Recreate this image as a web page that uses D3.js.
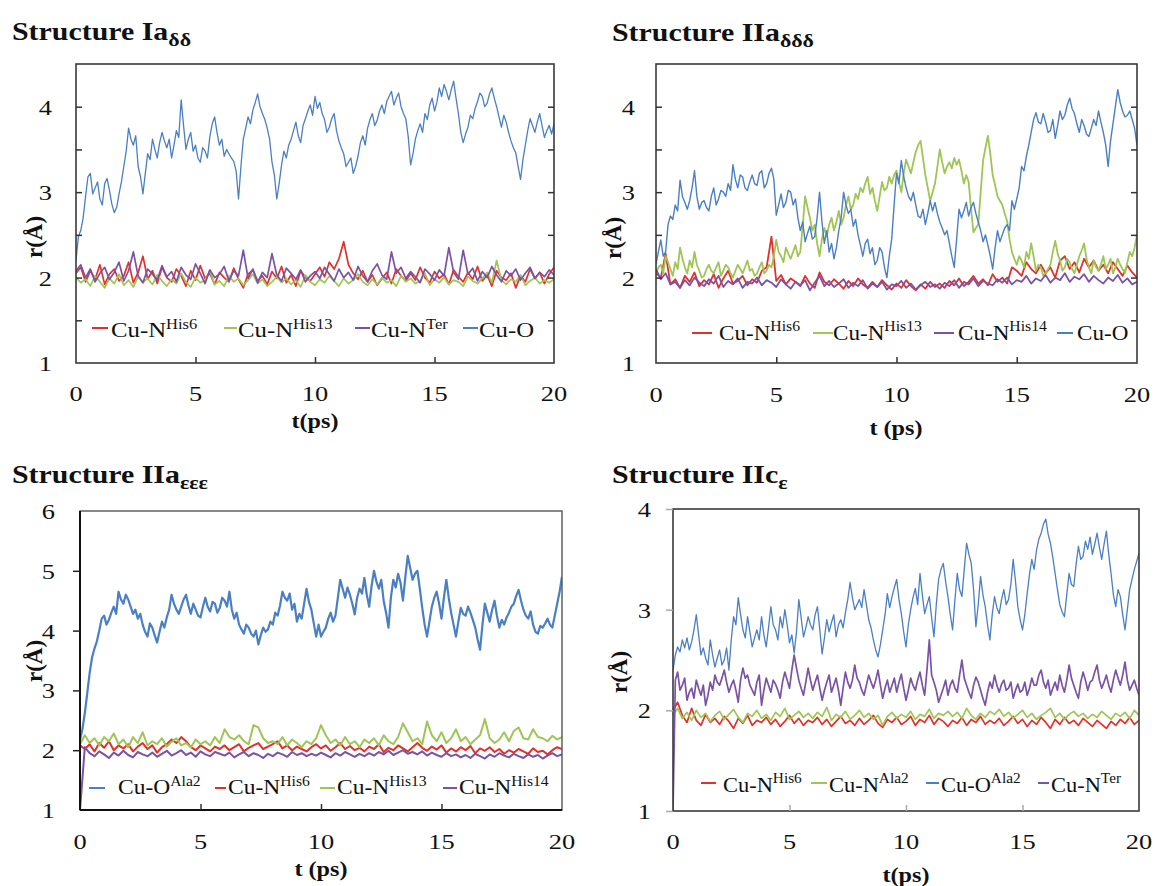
<!DOCTYPE html>
<html><head><meta charset="utf-8">
<script src="https://cdn.jsdelivr.net/npm/d3@7"></script>
<style>body{margin:0;background:#fff}svg{display:block}text{font-family:"Liberation Serif","Times New Roman",Times,serif}</style>
</head><body><svg id="c" width="1155" height="886"></svg>
<script>
// every series spans t = 0 … 20 ps at an even step
const tMax = 20;
const xTicks = [0, 5, 10, 15, 20];

// ---------- Structure Ia(δδ) ----------
const ia_CuN_His6 = [2.05,2.12,1.95,2.08,1.98,2.15,1.92,2.04,2.10,1.96,
 2.02,2.18,1.94,2.06,2.25,1.98,2.08,1.93,2.12,2.00,
 1.95,2.10,2.02,1.90,2.08,1.97,2.14,1.99,2.05,1.92,
 2.06,2.00,1.95,2.11,1.98,1.88,2.04,2.09,1.96,2.02,
 1.92,2.07,1.99,2.13,1.94,2.03,1.90,2.08,2.00,1.96,
 2.04,2.12,2.01,2.18,2.10,2.22,2.42,2.15,2.05,1.98,
 2.08,1.95,2.03,1.91,1.99,2.06,1.93,2.10,2.02,1.96,
 2.05,1.97,2.12,2.00,1.94,2.07,1.99,2.04,1.92,2.09,
 2.01,1.95,2.06,1.98,2.13,1.96,2.03,1.90,2.08,2.00,
 1.97,2.05,1.88,2.02,1.95,2.10,1.99,2.06,1.93,2.04,2.12];
const ia_CuN_His13 = [2.00,1.94,1.98,1.90,2.02,1.95,1.88,1.99,1.93,2.04,
 1.91,1.97,1.89,2.01,1.94,1.99,1.92,2.03,1.96,1.90,
 1.98,1.93,2.05,1.95,1.89,2.00,1.94,1.97,2.08,1.92,
 1.96,1.90,2.02,1.95,1.99,1.91,1.97,2.04,1.93,1.98,
 1.90,1.95,2.01,1.94,1.99,1.92,1.97,1.89,2.03,1.95,
 1.91,1.98,1.94,2.02,1.96,1.90,1.99,1.93,1.97,2.04,
 1.95,1.91,1.98,1.92,2.00,1.94,1.97,1.90,2.02,1.95,
 1.99,1.93,1.96,2.05,1.91,1.98,1.94,2.00,1.92,1.97,
 1.95,1.90,2.01,1.96,1.93,1.99,2.06,1.94,2.20,1.97,
 1.92,1.98,1.95,2.03,1.91,1.96,2.00,1.93,1.97,1.94,1.98];
const ia_CuN_Ter = [2.08,2.15,2.00,2.10,1.95,2.05,2.12,1.98,2.06,2.18,
 1.96,2.08,2.30,2.02,1.94,2.10,2.04,1.97,2.14,2.01,
 2.07,1.95,2.12,2.03,1.98,2.16,2.05,1.93,2.09,2.00,
 2.04,2.13,1.96,2.08,2.02,2.32,1.99,2.10,1.94,2.06,
 2.00,2.28,2.03,1.96,2.11,2.05,1.98,2.09,1.95,2.02,
 2.07,1.99,2.12,2.04,1.96,2.10,2.00,2.06,1.97,2.13,
 2.02,1.95,2.08,2.16,2.03,1.98,2.30,2.05,2.12,1.99,
 2.07,2.01,1.94,2.10,2.04,1.97,2.09,2.02,2.35,2.06,
 1.98,2.32,2.04,2.11,1.96,2.07,2.00,2.13,2.03,1.95,
 2.08,2.02,2.10,1.97,2.05,2.12,1.99,2.06,2.01,2.09,2.03];
const ia_CuO = [2.20,2.48,2.55,2.70,2.95,3.18,3.22,2.98,3.05,3.12,2.92,2.85,3.10,3.16,3.02,2.86,2.76,2.82,2.98,3.12,
 3.30,3.48,3.75,3.62,3.55,3.66,3.30,3.18,2.98,3.22,3.45,3.38,3.62,3.50,3.40,3.58,3.70,3.60,3.52,3.62,
 3.40,3.55,3.72,3.64,4.08,3.78,3.50,3.62,3.70,3.48,3.55,3.40,3.35,3.52,3.48,3.40,3.65,3.80,3.88,3.70,
 3.55,3.62,3.42,3.50,3.45,3.40,3.36,3.25,2.92,3.30,3.62,3.75,3.88,3.80,3.96,4.05,4.15,4.00,3.92,3.85,
 3.75,3.62,3.35,3.20,2.92,3.10,3.32,3.48,3.40,3.55,3.62,3.72,3.82,3.66,3.58,3.78,3.86,3.95,4.02,3.90,
 4.12,3.98,4.05,3.92,3.85,3.70,3.76,3.86,3.92,3.72,3.60,3.52,3.45,3.30,3.35,3.40,3.22,3.30,3.42,3.58,
 3.66,3.55,3.75,3.85,3.92,3.78,3.84,3.95,4.02,3.92,4.06,4.12,4.18,4.02,4.10,4.16,4.00,3.92,3.86,3.65,
 3.32,3.45,3.62,3.72,3.80,3.70,3.92,3.85,4.02,4.10,3.95,4.05,4.22,4.12,4.26,4.18,4.08,4.20,4.30,4.10,
 3.92,3.70,3.58,3.68,3.76,3.90,3.86,3.98,4.06,4.16,4.12,4.00,4.04,4.15,4.22,4.10,4.00,3.88,3.76,3.90,
 3.82,3.70,3.60,3.52,3.46,3.30,3.15,3.38,3.55,3.72,3.86,3.78,3.70,3.82,3.92,3.78,3.64,3.72,3.78,3.68,3.80];

// ---------- Structure IIa(δδδ) ----------
const iia_d_CuN_His6 = [2.05,2.00,2.28,1.92,1.98,1.88,2.02,1.95,2.06,1.90,
 1.97,1.92,2.04,1.88,1.99,2.08,1.93,1.96,2.02,1.91,
 1.98,1.94,2.08,2.12,2.48,1.96,2.03,1.92,1.99,1.95,
 1.90,2.02,1.93,1.88,2.06,1.95,1.91,1.98,1.93,1.87,
 1.96,1.90,1.99,1.92,1.88,1.95,1.89,1.97,1.91,1.86,
 1.93,1.88,1.97,1.90,1.85,1.92,1.87,1.95,1.89,1.93,
 1.88,1.96,1.91,1.99,1.90,1.95,2.02,1.93,1.98,1.91,
 2.04,1.95,2.00,1.93,2.12,2.08,2.02,2.18,2.10,2.05,
 2.15,2.05,2.12,2.00,2.20,2.25,2.10,2.18,2.06,2.22,
 2.12,2.20,2.08,2.15,2.05,2.18,2.10,2.02,2.14,2.06,2.00];
const iia_d_CuN_His13 = [2.05,2.12,2.15,2.05,2.25,2.18,2.10,2.02,2.18,2.10,2.35,2.22,2.12,2.05,2.20,2.12,2.30,2.15,2.08,2.00,
 2.02,2.10,2.15,2.08,2.05,2.12,2.18,2.02,2.08,2.15,2.12,2.05,2.00,2.08,2.15,2.10,2.05,2.12,2.20,2.08,
 2.10,2.02,2.05,2.12,2.18,2.05,2.08,2.15,2.12,2.25,2.44,2.30,2.25,2.18,2.35,2.28,2.22,2.30,2.38,2.25,
 2.30,2.60,2.95,2.82,2.70,2.55,2.62,2.40,2.25,2.45,2.58,2.48,2.62,2.70,2.55,2.65,2.78,2.62,2.70,2.85,
 2.95,2.80,2.85,2.98,2.92,3.05,3.00,3.10,3.18,2.98,3.05,2.90,2.78,2.95,3.12,3.02,3.05,3.18,3.10,3.20,
 3.25,3.12,3.00,3.22,3.38,3.30,3.22,3.35,3.47,3.55,3.60,3.40,3.20,3.05,2.90,3.00,3.10,3.30,3.50,3.35,
 3.22,3.30,3.35,3.28,3.40,3.32,3.38,3.25,3.10,3.20,3.12,2.80,2.53,2.58,2.62,3.00,3.37,3.52,3.66,3.45,
 3.20,3.08,2.95,2.90,2.85,2.75,2.66,2.45,2.30,2.22,2.15,2.25,2.20,2.12,2.30,2.22,2.40,2.25,2.08,2.15,
 2.12,2.02,2.05,2.10,2.15,2.30,2.43,2.28,2.20,2.08,2.12,2.22,2.18,2.10,2.05,2.15,2.25,2.32,2.40,2.22,
 2.12,2.05,2.20,2.12,2.08,2.15,2.25,2.10,2.15,2.22,2.05,2.12,2.22,2.15,2.10,2.05,2.18,2.30,2.25,2.35,2.50];
const iia_d_CuN_His14 = [2.10,1.98,2.05,1.92,1.95,1.88,1.97,1.91,2.00,1.94,
 1.90,1.98,1.93,2.02,1.89,1.96,1.92,1.99,1.88,1.95,
 1.93,2.00,1.91,1.97,1.94,1.89,1.98,1.92,1.87,1.95,
 1.91,1.97,1.85,1.94,2.02,1.90,1.96,1.89,1.93,1.98,
 1.88,1.94,1.90,1.97,1.87,1.93,1.89,1.95,1.86,1.92,
 1.90,1.96,1.88,1.93,1.86,1.91,1.95,1.89,1.92,1.87,
 1.94,1.90,1.97,1.88,1.95,1.92,1.99,1.90,1.96,1.93,
 1.91,1.98,1.94,2.00,1.92,1.97,1.95,2.02,1.93,1.99,
 1.96,2.03,1.94,2.00,1.97,2.05,1.95,2.01,1.98,2.04,
 1.95,2.02,1.97,1.93,2.00,1.96,2.03,1.94,1.99,1.92,1.95];
const iia_d_CuO = [2.16,2.30,2.44,2.25,2.30,2.62,2.72,2.68,2.85,2.78,3.14,2.95,2.88,2.80,2.90,3.05,3.25,2.95,2.80,2.88,
 2.90,2.82,2.78,2.95,3.05,2.85,2.92,3.02,3.00,2.95,3.10,3.02,3.32,3.15,3.05,3.20,3.18,3.05,3.02,3.12,
 3.20,3.10,3.08,3.22,3.25,3.05,3.10,3.22,3.28,3.15,2.73,2.85,2.98,2.82,2.88,3.02,3.00,2.85,2.92,2.70,
 2.55,2.65,2.42,2.52,2.60,2.45,2.48,2.70,3.00,2.65,2.40,2.55,2.30,2.40,2.22,2.35,2.55,2.70,3.00,2.85,
 2.75,2.80,2.60,2.68,2.50,2.38,2.25,2.40,2.45,2.28,2.35,2.15,2.20,2.35,2.30,2.12,2.00,2.25,2.45,2.85,
 3.22,3.10,3.37,3.18,3.05,2.95,2.90,3.00,2.85,2.72,2.70,2.80,2.62,2.75,2.90,2.78,2.88,2.75,2.65,2.58,
 2.50,2.55,2.40,2.25,2.12,2.45,2.80,2.70,2.78,2.88,2.72,2.82,2.88,2.75,2.65,2.55,2.42,2.50,2.38,2.25,
 2.10,2.35,2.55,2.42,2.50,2.58,2.62,2.55,2.90,2.80,2.92,3.05,3.30,3.25,3.42,3.55,3.70,3.85,3.93,3.82,
 3.80,3.92,3.82,3.70,3.72,3.85,3.63,3.78,3.95,3.85,3.90,4.02,4.10,3.98,3.92,3.80,3.70,3.85,3.78,3.68,
 3.65,3.75,3.85,3.78,3.95,3.82,3.70,3.55,3.30,3.60,3.80,4.00,4.20,4.05,3.95,3.88,3.90,3.95,3.85,3.75,3.55];

// ---------- Structure IIa(εεε) ----------
const iia_e_CuO_Ala2 = [2.17,2.35,2.62,2.95,3.29,3.55,3.70,3.82,4.00,4.20,4.25,4.10,4.18,4.30,4.40,4.28,4.65,4.52,4.45,4.60,
 4.52,4.40,4.28,4.35,4.20,4.28,4.10,3.98,3.90,4.12,4.05,3.92,3.80,3.98,4.15,4.05,4.22,4.35,4.60,4.45,
 4.35,4.28,4.40,4.52,4.60,4.42,4.28,4.45,4.35,4.25,4.22,4.40,4.55,4.40,4.32,4.48,4.45,4.30,4.38,4.55,
 4.50,4.40,4.65,4.35,4.20,4.30,4.10,4.02,3.95,4.10,4.05,3.95,3.90,4.00,3.77,3.92,4.05,3.98,4.02,4.15,
 4.10,4.30,4.25,4.42,4.65,4.55,4.50,4.62,4.35,4.45,4.15,4.28,4.20,4.45,4.70,4.48,4.35,4.12,3.90,4.10,
 3.90,3.98,4.05,4.20,4.30,4.15,4.25,4.55,4.85,4.70,4.55,4.72,4.60,4.45,4.27,4.55,4.70,4.62,4.88,4.60,
 4.40,4.75,5.00,4.82,4.70,4.85,4.50,4.30,4.05,4.55,4.85,4.72,4.95,4.80,4.50,4.90,5.25,5.05,4.85,4.95,
 5.00,4.70,4.38,4.10,3.90,4.15,4.40,4.55,4.65,4.45,4.20,4.55,4.85,4.55,4.30,4.10,3.90,4.15,4.38,4.28,
 4.25,4.40,4.30,4.18,4.05,3.85,3.68,4.10,4.45,4.30,4.15,4.35,4.50,4.25,4.05,4.18,4.10,4.22,4.30,4.40,
 4.45,4.58,4.68,4.50,4.35,4.25,4.20,4.32,4.10,3.98,3.95,4.08,4.05,4.12,4.20,4.10,4.05,4.25,4.45,4.65,4.90];
const iia_e_CuN_His6 = [2.08,2.02,2.10,1.98,2.12,2.04,2.15,2.00,2.08,2.03,
 2.10,1.98,2.06,2.12,2.02,2.08,1.96,2.05,2.10,2.18,
 2.12,2.22,2.15,2.05,2.00,2.08,2.03,1.98,2.06,2.02,
 2.08,2.00,2.05,2.10,1.98,2.04,2.08,2.12,2.02,2.06,
 2.10,2.15,2.03,2.08,2.00,2.06,2.02,1.98,2.05,2.10,
 2.03,2.08,1.99,2.05,2.12,2.02,2.07,2.00,2.04,1.98,
 2.06,2.02,2.10,1.97,2.04,2.00,2.08,2.03,1.98,2.05,
 2.12,2.04,1.99,2.06,2.01,2.08,1.96,2.03,1.98,2.05,
 2.00,2.07,1.95,2.03,1.99,2.05,1.97,2.02,1.94,2.00,
 1.96,2.02,1.98,1.94,2.03,1.97,1.99,1.93,2.00,2.05,2.02];
const iia_e_CuN_His13 = [2.10,2.25,2.12,2.20,2.08,2.22,2.15,2.28,2.10,2.18,
 2.05,2.22,2.12,2.30,2.08,2.15,2.10,2.20,2.06,2.14,
 2.20,2.08,2.12,2.05,2.18,2.10,2.15,2.08,2.22,2.12,
 2.35,2.22,2.18,2.25,2.15,2.10,2.42,2.38,2.20,2.12,
 2.15,2.10,2.22,2.08,2.18,2.12,2.05,2.15,2.10,2.20,
 2.42,2.25,2.12,2.18,2.08,2.22,2.10,2.15,2.05,2.18,
 2.12,2.20,2.08,2.25,2.15,2.10,2.22,2.45,2.30,2.15,
 2.20,2.10,2.48,2.25,2.15,2.30,2.12,2.20,2.35,2.15,
 2.22,2.10,2.18,2.25,2.52,2.20,2.12,2.18,2.30,2.15,
 2.32,2.38,2.20,2.18,2.35,2.22,2.20,2.15,2.24,2.18,2.22];
const iia_e_CuN_His14 = [1.00,2.05,1.95,1.90,1.98,1.93,1.87,1.96,1.91,1.99,
 1.92,1.88,1.97,1.93,1.90,1.96,1.89,1.94,1.99,1.91,
 1.95,2.00,1.92,1.96,1.89,1.98,1.93,1.90,1.97,1.94,
 1.91,1.96,1.88,1.93,1.97,1.90,1.95,1.92,1.87,1.94,
 1.90,1.96,1.93,1.89,1.97,1.92,1.95,1.90,1.94,1.91,
 1.96,1.92,1.88,1.95,1.91,1.97,1.93,1.89,1.94,1.90,
 1.95,1.91,1.97,1.93,1.99,1.92,1.96,2.00,1.94,1.97,
 1.93,1.98,1.91,1.96,1.92,1.89,1.95,1.90,1.93,1.88,
 1.92,1.87,1.94,1.90,1.86,1.93,1.89,1.95,1.91,1.88,
 1.94,1.90,1.87,1.93,1.89,1.92,1.86,1.91,1.95,1.90,1.93];

// ---------- Structure IIc(ε) ----------
const iic_CuN_His6 = [2.00,2.08,1.95,1.88,2.02,1.90,1.85,1.96,1.88,1.92,
 1.86,1.94,1.89,1.82,1.92,1.87,1.95,1.85,1.90,1.88,
 1.93,1.86,1.91,1.84,1.89,1.95,1.87,1.92,1.85,1.90,
 1.88,1.93,1.86,1.91,1.84,1.89,1.94,1.87,1.90,1.85,
 1.92,1.86,1.90,1.95,1.87,1.83,1.91,1.88,1.93,1.86,
 1.89,1.94,1.85,1.91,1.88,1.95,1.86,1.92,1.89,1.84,
 1.90,1.87,1.93,1.85,1.91,1.88,1.94,1.86,1.90,1.87,
 1.92,1.85,1.89,1.94,1.87,1.91,1.84,1.90,1.86,1.93,
 1.88,1.82,1.91,1.86,1.93,1.87,1.90,1.85,1.92,1.88,
 1.84,1.90,1.86,1.82,1.89,1.85,1.91,1.87,1.93,1.86,1.90];
const iic_CuN_Ala2 = [1.95,2.02,1.92,1.98,1.90,2.00,1.93,1.97,1.89,1.95,
 1.99,1.91,1.96,2.01,1.93,1.88,1.97,1.94,2.00,1.92,
 1.96,1.90,1.98,1.94,2.02,1.91,1.95,1.99,1.93,1.97,
 1.92,1.98,1.94,2.03,1.90,1.96,1.93,1.99,1.91,1.95,
 2.00,1.93,1.97,1.91,1.95,1.85,1.94,1.98,1.92,1.96,
 1.93,1.99,1.91,1.96,1.94,2.01,1.92,1.97,1.95,1.99,
 1.94,1.98,1.92,2.02,1.95,1.91,1.97,1.93,1.99,1.96,
 2.01,1.94,1.98,1.92,1.96,2.00,1.93,1.97,1.91,1.95,
 1.98,2.02,1.93,1.97,1.91,1.96,1.99,1.94,1.97,1.92,
 1.96,1.93,1.99,1.95,1.91,1.97,1.94,1.98,1.92,2.00,1.95];
const iic_CuO_Ala2 = [2.40,2.55,2.63,2.58,2.70,2.62,2.72,2.60,2.68,2.80,2.95,2.75,2.55,2.62,2.52,2.45,2.70,2.55,2.43,2.52,
 2.60,2.45,2.50,2.62,2.40,2.70,2.93,2.85,3.12,2.95,2.80,2.72,2.93,2.78,2.63,2.72,2.80,2.70,2.93,2.75,
 2.63,2.82,3.03,2.85,2.80,2.70,2.93,2.82,3.00,2.85,2.67,2.75,2.57,2.78,3.10,2.92,2.73,2.82,2.93,2.85,
 2.80,2.95,3.03,2.80,2.56,2.72,2.90,2.78,2.87,2.95,2.73,2.85,2.90,2.82,2.97,3.10,3.27,3.12,3.00,3.05,
 3.10,3.02,3.20,3.05,2.90,2.82,2.70,2.60,2.53,2.65,2.80,2.95,3.16,3.02,3.13,3.22,3.30,3.10,2.96,2.78,
 2.63,2.85,3.00,3.12,3.21,3.05,3.36,3.15,2.96,3.05,3.13,2.92,2.73,3.05,3.30,3.40,3.46,3.28,3.13,2.95,
 2.80,3.10,3.36,3.20,3.13,3.40,3.66,3.55,3.46,3.20,2.83,3.05,3.33,3.15,3.03,2.85,2.70,2.95,3.13,3.02,
 2.96,3.10,3.20,3.05,3.10,3.25,3.50,3.28,3.03,2.90,2.80,2.95,3.16,3.35,3.50,3.40,3.59,3.70,3.76,3.85,
 3.90,3.75,3.66,3.52,3.36,3.20,3.05,2.98,2.93,3.15,3.36,3.25,3.23,3.45,3.63,3.50,3.53,3.68,3.60,3.72,
 3.55,3.65,3.76,3.62,3.50,3.65,3.78,3.55,3.36,3.15,3.03,3.20,3.13,2.95,2.80,3.00,3.20,3.30,3.40,3.48,3.56];
const iic_CuN_Ter = [1.00,2.30,2.38,2.20,2.25,2.32,2.10,2.18,2.22,2.12,2.30,2.22,2.15,2.25,2.05,2.15,2.28,2.20,2.35,2.28,
 2.25,2.32,2.40,2.28,2.18,2.25,2.30,2.20,2.08,2.30,2.42,2.32,2.35,2.25,2.20,2.15,2.28,2.35,2.05,2.20,
 2.32,2.25,2.18,2.30,2.26,2.20,2.12,2.28,2.38,2.30,2.22,2.40,2.55,2.42,2.30,2.22,2.15,2.28,2.42,2.30,
 2.20,2.28,2.35,2.22,2.10,2.20,2.28,2.35,2.18,2.25,2.32,2.20,2.05,2.22,2.38,2.28,2.22,2.30,2.45,2.32,
 2.28,2.20,2.15,2.25,2.35,2.28,2.22,2.30,2.40,2.25,2.12,2.22,2.30,2.18,2.25,2.32,2.18,2.28,2.36,2.22,
 2.10,2.20,2.32,2.25,2.20,2.30,2.38,2.25,2.15,2.40,2.70,2.35,2.28,2.20,2.08,2.15,2.22,2.30,2.15,2.25,
 2.30,2.22,2.18,2.35,2.50,2.32,2.25,2.18,2.12,2.25,2.33,2.28,2.20,2.12,2.05,2.18,2.28,2.22,2.35,2.25,
 2.18,2.26,2.30,2.20,2.22,2.28,2.12,2.20,2.26,2.18,2.20,2.28,2.15,2.22,2.32,2.25,2.25,2.35,2.40,2.28,
 2.22,2.30,2.15,2.22,2.28,2.20,2.35,2.25,2.18,2.30,2.45,2.32,2.25,2.18,2.12,2.28,2.38,2.30,2.20,2.28,
 2.30,2.38,2.45,2.30,2.22,2.28,2.35,2.25,2.18,2.30,2.40,2.32,2.25,2.35,2.48,2.30,2.20,2.25,2.30,2.22,2.15];

const C = {blue:"#4a7fc4", red:"#e2312b", green:"#9fc555", purple:"#7a52a6"};
const FONT = "'Liberation Serif','Times New Roman',Times,serif";

const svg = d3.select("#c");

function richText(parent, x, y, parts, size, opt) {
  opt = opt || {};
  const t = parent.append("text")
    .attr("transform", `translate(${x},${y})` + (opt.rotate ? ` rotate(${opt.rotate})` : "") + ` scale(${opt.sx || 1},1)`)
    .attr("font-family", FONT)
    .attr("font-size", size)
    .attr("font-weight", opt.bold ? "bold" : "normal")
    .attr("text-anchor", opt.anchor || "start")
    .attr("fill", "#111");
  let shift = 0;
  parts.forEach(p => {
    const [str, kind] = Array.isArray(p) ? p : [p, "n"];
    const ts = t.append("tspan").text(str);
    let target = 0, fs = size;
    if (kind === "sup") { target = -Math.round(size * 0.4); fs = Math.round(size * 0.66); }
    if (kind === "sub") { target = Math.round(size * 0.22); fs = Math.round(size * (opt.subRatio || 0.66)); }
    ts.attr("font-size", fs).attr("dy", target - shift);
    shift = target;
  });
  return t;
}

const panels = [
  { x0:76, x1:554, y0:64, y1:363, yDomain:[1,4.5], yLabels:[1,2,3,4], yMinor:[1.5,2,2.5,3,3.5,4],
    lw:1.7, blueW:1.3, frame:"box", yTickStyle:"inBoth",
    title:{x:12, y:40, main:"Structure Ia", sub:"δδ"},
    yLabelRight:52, xLabelY:401, xTitle:{text:"t(ps)", x:315, y:428}, yTitle:{x:42, y:237},
    series:[[ia_CuN_His6,C.red],[ia_CuN_His13,C.green],[ia_CuN_Ter,C.purple],[ia_CuO,C.blue]],
    legendY:328, legendBase:337, legendSx:1.18, legendSize:21,
    legend:[[92,108,111,C.red,[["Cu-N"],["His6","sup"]]],[224,237,238,C.green,[["Cu-N"],["His13","sup"]]],
            [355,370,371,C.purple,[["Cu-N"],["Ter","sup"]]],[463,478,479,C.blue,[["Cu-O"]]]] },
  { x0:656, x1:1137, y0:64, y1:363, yDomain:[1,4.5], yLabels:[1,2,3,4], yMinor:[1.5,2,2.5,3,3.5,4],
    lw:1.8, blueW:1.4, frame:"box", yTickStyle:"inBoth",
    title:{x:612, y:41, main:"Structure IIa", sub:"δδδ"},
    yLabelRight:635, xLabelY:402, xTitle:{text:"t (ps)", x:896, y:435}, yTitle:{x:621, y:238},
    series:[[iia_d_CuN_His6,C.red],[iia_d_CuN_His13,C.green],[iia_d_CuN_His14,C.purple],[iia_d_CuO,C.blue]],
    legendY:333, legendBase:340, legendSx:1.05, legendSize:22,
    legend:[[692,712,719,C.red,[["Cu-N"],["His6","sup"]]],[813,833,833,C.green,[["Cu-N"],["His13","sup"]]],
            [934,954,958,C.purple,[["Cu-N"],["His14","sup"]]],[1057,1073,1077,C.blue,[["Cu-O"]]]] },
  { x0:80, x1:562, y0:511, y1:810, yDomain:[1,6], yLabels:[1,2,3,4,5,6], yMinor:[2,3,4,5],
    lw:2.0, blueW:2.2, frame:"axes", yTickStyle:"out",
    title:{x:12, y:483, main:"Structure IIa", sub:"εεε"},
    yLabelRight:55, xLabelY:849, xTitle:{text:"t (ps)", x:321, y:876}, yTitle:{x:42, y:661},
    series:[[iia_e_CuO_Ala2,C.blue],[iia_e_CuN_His6,C.red],[iia_e_CuN_His13,C.green],[iia_e_CuN_His14,C.purple]],
    legendY:788, legendBase:794, legendSx:1.12, legendSize:21,
    legend:[[89,105,118,C.blue,[["Cu-O"],["Ala2","sup"]]],[215,226,228,C.red,[["Cu-N"],["His6","sup"]]],
            [320,335,337,C.green,[["Cu-N"],["His13","sup"]]],[443,457,459,C.purple,[["Cu-N"],["His14","sup"]]]] },
  { x0:673, x1:1139, y0:509, y1:811, yDomain:[1,4], yLabels:[1,2,3,4], yMinor:[1,2,3,4],
    lw:1.7, blueW:1.3, frame:"box", yTickStyle:"outGrey",
    title:{x:612, y:483, main:"Structure IIc", sub:"ε"},
    yLabelRight:651, xLabelY:849, xTitle:{text:"t(ps)", x:906, y:882}, yTitle:{x:627, y:672},
    series:[[iic_CuN_His6,C.red],[iic_CuN_Ala2,C.green],[iic_CuO_Ala2,C.blue],[iic_CuN_Ter,C.purple]],
    legendY:783, legendBase:792, legendSx:1.02, legendSize:22,
    legend:[[701,716,723,C.red,[["Cu-N"],["His6","sup"]]],[811,827,829,C.green,[["Cu-N"],["Ala2","sup"]]],
            [926,939,941,C.blue,[["Cu-O"],["Ala2","sup"]]],[1038,1049,1051,C.purple,[["Cu-N"],["Ter","sup"]]]] }
];

panels.forEach((p, pi) => {
  const x = d3.scaleLinear().domain([0, tMax]).range([p.x0, p.x1]);
  const y = d3.scaleLinear().domain(p.yDomain).range([p.y1, p.y0]);
  const g = svg.append("g");
  const clipId = "clip" + pi;
  svg.append("clipPath").attr("id", clipId).append("rect")
    .attr("x", p.x0).attr("y", p.y0).attr("width", p.x1 - p.x0).attr("height", p.y1 - p.y0);

  p.series.forEach(([vals, col]) => {
    const step = tMax / (vals.length - 1);
    const line = d3.line().x((d, i) => x(i * step)).y(d => y(d));
    g.append("path").datum(vals).attr("clip-path", `url(#${clipId})`)
      .attr("d", line).attr("fill", "none").attr("stroke", col)
      .attr("stroke-width", col === C.blue ? p.blueW : p.lw)
      .attr("stroke-linejoin", "round");
  });

  // frame
  if (p.frame === "box") {
    g.append("rect").attr("x", p.x0).attr("y", p.y0).attr("width", p.x1 - p.x0).attr("height", p.y1 - p.y0)
      .attr("fill", "none").attr("stroke", "#3a3a3a").attr("stroke-width", 1.6);
  } else {
    g.append("rect").attr("x", p.x0).attr("y", p.y0).attr("width", p.x1 - p.x0).attr("height", p.y1 - p.y0)
      .attr("fill", "none").attr("stroke", "#555").attr("stroke-width", 1.4);
    g.append("line").attr("x1", p.x0).attr("x2", p.x0).attr("y1", p.y0).attr("y2", p.y1).attr("stroke", "#111").attr("stroke-width", 2);
    g.append("line").attr("x1", p.x0).attr("x2", p.x1).attr("y1", p.y1).attr("y2", p.y1).attr("stroke", "#111").attr("stroke-width", 2);
  }

  // y ticks
  if (p.yTickStyle === "inBoth") {
    const l = g.append("g").attr("transform", `translate(${p.x0},0)`).call(d3.axisLeft(y).tickValues(p.yMinor).tickSize(-6).tickFormat(""));
    const r = g.append("g").attr("transform", `translate(${p.x1},0)`).call(d3.axisRight(y).tickValues(p.yMinor).tickSize(-6).tickFormat(""));
    [l, r].forEach(a => { a.select(".domain").remove(); a.selectAll("line").attr("stroke", "#333").attr("stroke-width", 1.5); });
  } else {
    const l = g.append("g").attr("transform", `translate(${p.x0},0)`).call(d3.axisLeft(y).tickValues(p.yMinor).tickSize(7).tickFormat(""));
    l.select(".domain").remove();
    l.selectAll("line").attr("stroke", p.yTickStyle === "outGrey" ? "#aaa" : "#222").attr("stroke-width", 1.5);
  }
  // x ticks (inward)
  const xa = g.append("g").attr("transform", `translate(0,${p.y1})`).call(d3.axisBottom(x).tickValues([5, 10, 15]).tickSize(-6).tickFormat(""));
  xa.select(".domain").remove();
  xa.selectAll("line").attr("stroke", pi === 3 ? "#aaa" : "#333").attr("stroke-width", 1.5);

  // tick labels
  p.yLabels.forEach(v => richText(g, p.yLabelRight, y(v) + 8, [String(v)], 22, {anchor:"end", sx:1.2}));
  xTicks.forEach(v => richText(g, x(v), p.xLabelY, [String(v)], 22, {anchor:"middle", sx:1.2}));

  // axis titles
  richText(g, p.xTitle.x, p.xTitle.y, [p.xTitle.text], 22, {anchor:"middle", bold:true, sx:1.1});
  richText(g, p.yTitle.x, p.yTitle.y, ["r(Å)"], 23, {anchor:"middle", bold:true, rotate:-90});

  // title
  richText(svg, p.title.x, p.title.y, [[p.title.main], [p.title.sub, "sub"]], 26, {bold:true, sx:1.15, subRatio:0.72});

  // legend
  p.legend.forEach(([lx1, lx2, tx, col, parts]) => {
    g.append("line").attr("x1", lx1).attr("x2", lx2).attr("y1", p.legendY).attr("y2", p.legendY)
      .attr("stroke", col).attr("stroke-width", 2);
    richText(g, tx, p.legendBase, parts, p.legendSize, {sx:p.legendSx});
  });
});
</script>
</body></html>
